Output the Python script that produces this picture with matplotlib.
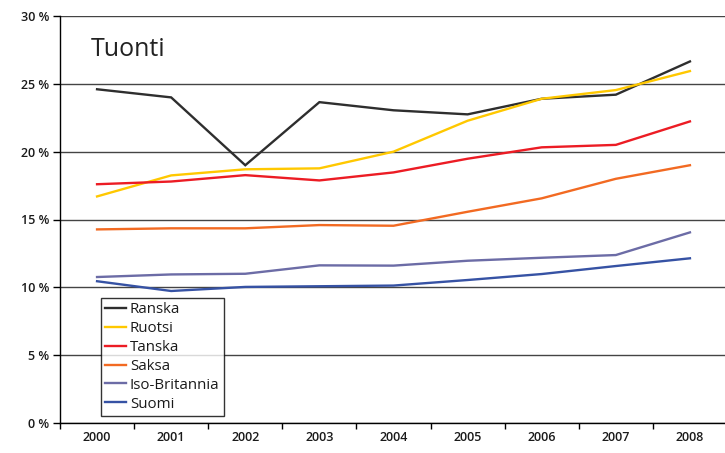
import matplotlib
matplotlib.use("Agg")
import matplotlib.pyplot as plt
from matplotlib.ticker import FixedLocator, FuncFormatter

plt.rcParams['font.family'] = ['Open Sans', 'DejaVu Sans']

years = ["2000", "2001", "2002", "2003", "2004", "2005", "2006", "2007", "2008"]
ranska = [24.6, 24.0, 19.0, 23.65, 23.05, 22.75, 23.9, 24.2, 26.65]
ruotsi = [16.7, 18.25, 18.7, 18.77, 20.0, 22.28, 23.9, 24.54, 25.94]
tanska = [17.6, 17.8, 18.27, 17.88, 18.47, 19.48, 20.32, 20.5, 22.23]
saksa = [14.27, 14.35, 14.35, 14.59, 14.54, 15.57, 16.56, 18.0, 19.0]
iso_britannia = [10.76, 10.95, 11.0, 11.62, 11.6, 11.96, 12.18, 12.38, 14.05]
suomi = [10.45, 9.73, 10.03, 10.08, 10.13, 10.54, 10.98, 11.57, 12.14]

series = [
    ("Ranska", ranska, "#2e2e2e"),
    ("Ruotsi", ruotsi, "#ffc800"),
    ("Tanska", tanska, "#ec1c24"),
    ("Saksa", saksa, "#f26a22"),
    ("Iso-Britannia", iso_britannia, "#6c6ca6"),
    ("Suomi", suomi, "#3652a4"),
]

fig = plt.figure(figsize=(7.25, 4.53), dpi=100)
ax = fig.add_axes([60/725, 30/453, 667/725, 407/453])

x = list(range(len(years)))
for name, vals, col in series:
    ax.plot(x, vals, color=col, lw=1.7, label=name, solid_joinstyle='miter')

ax.set_xlim(-0.5, len(years) - 0.5)
ax.set_ylim(0, 30)

ax.set_yticks([0, 5, 10, 15, 20, 25, 30])
ax.yaxis.set_major_formatter(FuncFormatter(lambda v, p: f"{int(v)} %"))
ax.grid(axis='y', color='#444444', lw=1.0)
ax.set_axisbelow(True)

ax.set_xticks(x)
ax.set_xticklabels(years)
ax.tick_params(axis='x', which='major', length=0, pad=6, labelsize=9)
ax.xaxis.set_minor_locator(FixedLocator([i - 0.5 for i in range(len(years) + 1)]))
ax.tick_params(axis='x', which='minor', length=4, width=1, color='black', direction='out')
ax.tick_params(axis='y', length=5, width=1, color='black', labelsize=9, pad=3)
for lbl in ax.get_xticklabels() + ax.get_yticklabels():
    lbl.set_fontweight('semibold')
    lbl.set_color('#1a1a1a')

for s in ['top', 'right']:
    ax.spines[s].set_visible(False)
for s in ['left', 'bottom']:
    ax.spines[s].set_color('black')
    ax.spines[s].set_linewidth(1.0)

fig.text(91/725, (453-50)/453, "Tuonti", fontsize=18, va='center', ha='left', color='#222222')

leg = ax.legend(loc='lower left', bbox_to_anchor=(0.061, 0.017), frameon=True,
                fancybox=False, edgecolor='black', fontsize=10.8, handlelength=1.4,
                handletextpad=0.25, labelspacing=0.26, borderpad=0.3,
                borderaxespad=0)
leg.get_frame().set_linewidth(1.0)
for t in leg.get_texts():
    t.set_color('#1a1a1a')

fig.savefig("out.png", dpi=100)
